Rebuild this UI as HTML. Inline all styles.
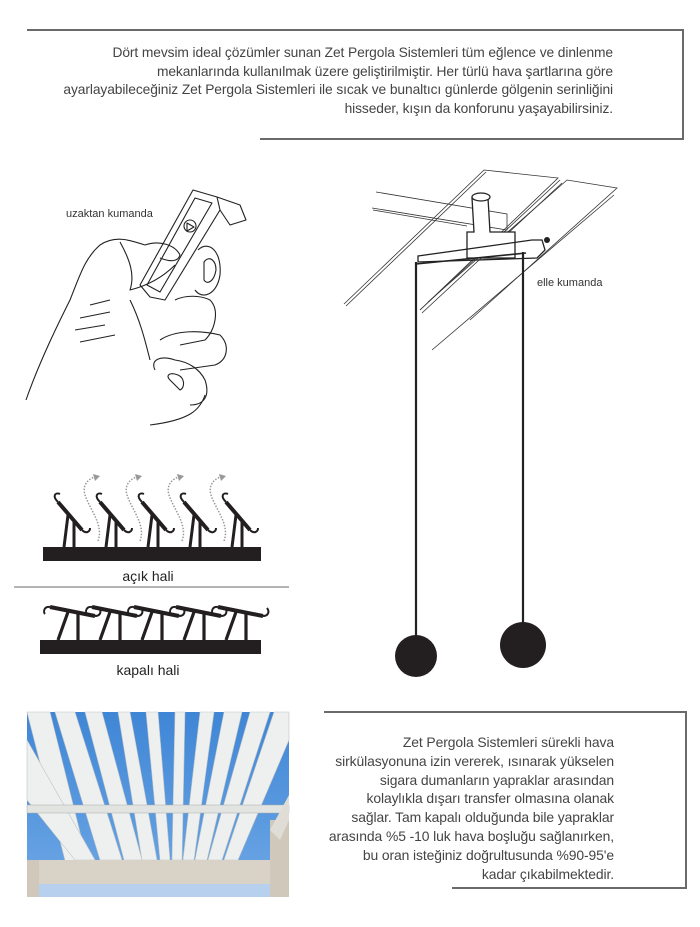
<!DOCTYPE html>
<html><head><meta charset="utf-8"><style>
html,body{margin:0;padding:0;background:#fff;}
body{width:700px;height:927px;position:relative;overflow:hidden;font-family:"Liberation Sans",sans-serif;}
.t{position:absolute;color:#444;text-align:right;font-size:13.8px;line-height:18.6px;letter-spacing:-0.1px;white-space:nowrap;}
.l{position:absolute;color:#333;font-size:11px;}
svg{position:absolute;left:0;top:0;}
</style></head><body>
<svg width="700" height="927" viewBox="0 0 700 927">
<g stroke="#6a6a6a" stroke-width="2" fill="none">
<polyline points="27,30 683,30 683,139 260,139"/>
<polyline points="324,712 686,712 686,888 452,888"/>
</g>
<line x1="14" y1="587" x2="289" y2="587" stroke="#888" stroke-width="1.2"/>

<!-- hand -->
<g stroke="#222" stroke-width="1.1" fill="none" stroke-linejoin="round">
<path d="M26,400 C40,360 60,320 70,300 C80,275 85,258 100,245 C115,235 130,240 145,245"/>
<path d="M145,245 C160,240 175,245 180,255 C178,262 170,262 160,258"/>
<path d="M120,242 C130,260 135,275 130,290 C150,285 165,275 175,265"/>
<path d="M193,190 L217,197 L220,210 L165,300 L150,297 L140,285 Z"/>
<path d="M195,198 L212,203 L160,292 L147,285 Z"/>
<circle cx="190" cy="226" r="6"/>
<path d="M187,223 L194,227 L187,231 Z"/>
<path d="M217,197 L240,205 L246,220 L230,225 L220,210"/>
<path d="M198,250 C208,240 222,250 220,275 C217,295 202,300 195,290"/>
<path d="M204,262 C209,255 216,260 216,270 C214,282 207,285 204,280 Z"/>
<path d="M175,300 C185,295 200,295 210,300 C220,310 215,330 205,340 L180,345"/>
<path d="M160,340 C175,330 200,330 220,335 C230,345 228,360 215,365 L180,370"/>
<path d="M155,370 C150,360 160,355 175,360 C190,362 200,370 205,380 C210,395 205,405 190,405"/>
<path d="M170,380 C165,375 170,372 178,375 C185,378 185,388 180,390 Z"/>
<path d="M90,305 L110,300 M80,318 L110,312 M75,330 L105,325 M80,342 L115,335"/>
<path d="M205,395 C200,410 190,420 150,425"/>
<path d="M130,300 C140,320 145,340 150,360"/>
</g>

<!-- pergola drawing -->
<g stroke="#333" stroke-width="0.8" fill="none">
<path d="M344,304 L484,170 L558,178 L420,310"/>
<path d="M346,306 L486,172"/>
<path d="M420,310 L560,180"/>
<path d="M422,313 L562,183"/>
<path d="M428,302 L567,180 L617,188 L470,320"/>
<path d="M432,350 L614,195"/>
<path d="M376,192 L507,214 L507,230 L372,208"/>
<path d="M373,210 L467,226"/>
</g>
<g stroke="#222" stroke-width="1.3" fill="#fff">
<path d="M472,198 L488,198 L490,232 L515,232 L515,258 L467,258 L467,232 L474,232 Z"/>
<ellipse cx="481" cy="197" rx="9" ry="4"/>
<path d="M418,256 L532,240 L542,240 L545,250 L537,258 L418,262 Z" fill="none"/>
<path d="M416,264 L526,253" stroke-width="1.6"/>
</g>
<circle cx="547" cy="240" r="3" fill="#222"/>
<line x1="416" y1="262" x2="416" y2="640" stroke="#222" stroke-width="2.2"/>
<line x1="523" y1="252" x2="523" y2="626" stroke="#222" stroke-width="2.2"/>
<circle cx="416" cy="656" r="21" fill="#231f20"/>
<circle cx="523" cy="645" r="23" fill="#231f20"/>

<!-- open louvers -->
<rect x="43" y="547" width="218" height="14" fill="#231f20"/>
<g fill="none" stroke="#231f20">
<g id="lo">
<path d="M58,502 L82,530" stroke-width="4"/>
<path d="M58,502 C52,496 55,492 60,494" stroke-width="2"/>
<path d="M82,530 C86,534 90,532 90,528" stroke-width="2"/>
<path d="M68,515 L64,547 M74,520 L74,547" stroke-width="3"/>
</g>
<use href="#lo" x="42"/><use href="#lo" x="84"/><use href="#lo" x="126"/><use href="#lo" x="168"/>
</g>
<g fill="none" stroke="#999" stroke-width="1.5" stroke-dasharray="1.5,1.5">
<path d="M98,541 C104,525 90,510 85,495 C82,485 88,479 95,477"/>
<path d="M140,541 C146,525 132,510 127,495 C124,485 130,479 137,477"/>
<path d="M182,541 C188,525 174,510 169,495 C166,485 172,479 179,477"/>
<path d="M224,541 C230,525 216,510 211,495 C208,485 214,479 221,477"/>
</g>
<g fill="#999"><path d="M93,474 L100,476 L95,481Z"/><path d="M135,474 L142,476 L137,481Z"/><path d="M177,474 L184,476 L179,481Z"/><path d="M219,474 L226,476 L221,481Z"/></g>

<!-- closed louvers -->
<rect x="40" y="640" width="221" height="14" fill="#231f20"/>
<g fill="none" stroke="#231f20">
<g id="lc">
<path d="M50,607 L95,616" stroke-width="4"/>
<path d="M50,607 C44,606 43,612 45,614" stroke-width="2"/>
<path d="M95,616 C100,616 102,612 99,608" stroke-width="2"/>
<path d="M68,612 L58,640 M78,614 L78,640" stroke-width="3.2"/>
</g>
<use href="#lc" x="42"/><use href="#lc" x="84"/><use href="#lc" x="126"/><use href="#lc" x="168"/>
</g>

<!-- photo -->
<defs><linearGradient id="sky" x1="0" y1="0" x2="0" y2="1"><stop offset="0" stop-color="#3f86d6"/><stop offset="1" stop-color="#6fa8e6"/></linearGradient></defs>
<rect x="27" y="712" width="262" height="185" fill="url(#sky)"/>
<g fill="#eef0f0" stroke="#c0c4c4" stroke-width="0.6">
<polygon points="27,712 50,712 92,880 70,880"/>
<polygon points="55,712 75,712 122,860 100,860"/>
<polygon points="85,712 102,712 142,860 124,860"/>
<polygon points="118,712 130,712 157,860 142,860"/>
<polygon points="146,712 158,712 170,860 160,860"/>
<polygon points="175,712 185,712 182,860 172,860"/>
<polygon points="200,712 214,712 194,860 183,860"/>
<polygon points="224,712 242,712 207,860 195,860"/>
<polygon points="250,712 270,712 222,860 208,860"/>
<polygon points="274,712 289,712 289,740 238,860 224,860"/>
<polygon points="27,740 27,800 75,860 95,860"/>
</g>
<rect x="27" y="805" width="262" height="8" fill="#e2e4e2" stroke="#aaa" stroke-width="0.5"/>
<rect x="27" y="860" width="262" height="24" fill="#d9d2c6"/>
<rect x="27" y="860" width="12" height="37" fill="#cfc8bb"/>
<rect x="270" y="820" width="19" height="77" fill="#cfc8bb"/>
<rect x="39" y="884" width="231" height="13" fill="#b7d0ee"/>
<polygon points="270,830 289,795 289,820 280,840" fill="#e0ddd6"/>
</svg>

<div class="l" style="left:66px;top:208px;">uzaktan kumanda</div>
<div class="l" style="left:537px;top:277px;">elle kumanda</div>
<div style="position:absolute;left:0;width:296px;top:568px;text-align:center;font-size:14px;color:#222;">açık hali</div>
<div style="position:absolute;left:0;width:296px;top:662px;text-align:center;font-size:14px;color:#222;">kapalı hali</div>

<div class="t" style="right:87px;top:44px;">Dört mevsim ideal çözümler sunan Zet Pergola Sistemleri tüm eğlence ve dinlenme<br>mekanlarında kullanılmak üzere geliştirilmiştir. Her türlü hava şartlarına göre<br>ayarlayabileceğiniz Zet Pergola Sistemleri ile sıcak ve bunaltıcı günlerde gölgenin serinliğini<br>hisseder, kışın da konforunu yaşayabilirsiniz.</div>

<div class="t" style="right:86px;top:733px;line-height:18.8px;font-size:13.9px;">Zet Pergola Sistemleri sürekli hava<br>sirkülasyonuna izin vererek, ısınarak yükselen<br>sigara dumanların yapraklar arasından<br>kolaylıkla dışarı transfer olmasına olanak<br>sağlar. Tam kapalı olduğunda bile yapraklar<br>arasında %5 -10 luk hava boşluğu sağlanırken,<br>bu oran isteğiniz doğrultusunda %90-95'e<br>kadar çıkabilmektedir.</div>
</body></html>
